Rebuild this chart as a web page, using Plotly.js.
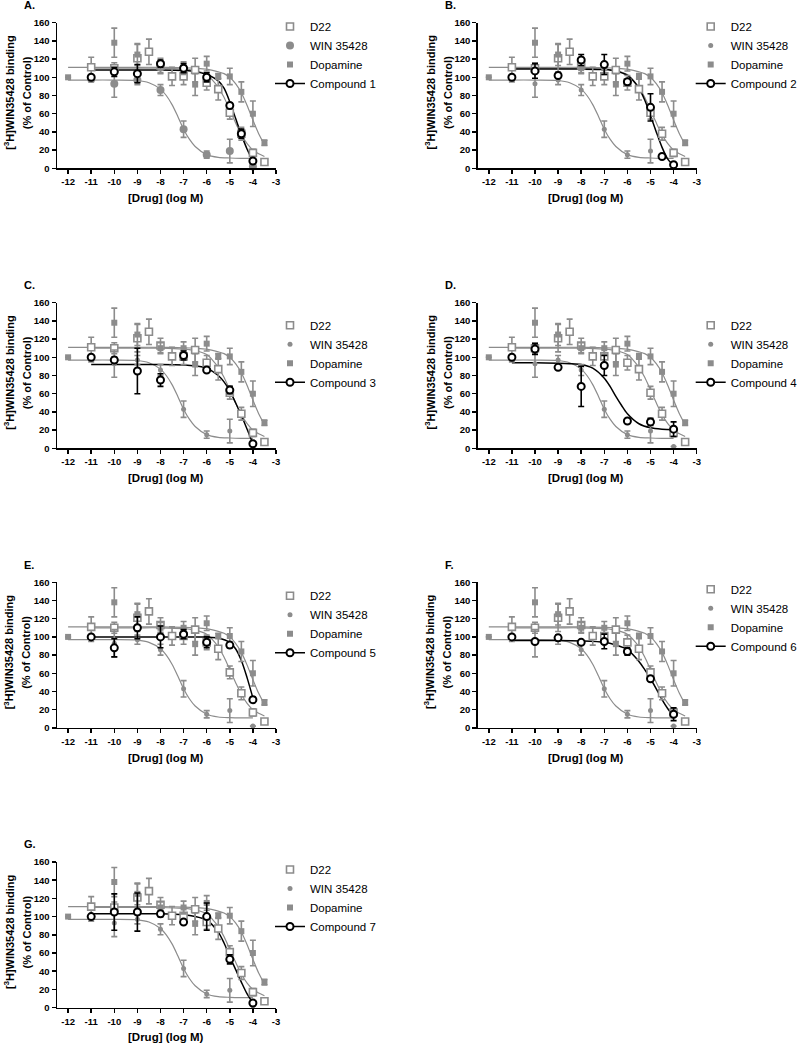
<!DOCTYPE html>
<html>
<head>
<meta charset="utf-8">
<script src="https://cdn.plot.ly/plotly-3.0.1.min.js"></script>
<style>body{margin:0;background:#fff}#plot{width:800px;height:1043px}</style>
</head>
<body>
<div id="plot"></div>
<script>
const W = 800, H = 1043;
const GRAY = '#8c8c8c';
const FONT = 'Arial, "Liberation Sans", sans-serif';

// reference compounds, same in every panel
let d22X = [-11, -10, -9, -8.5, -8, -7.5, -7, -6.5, -6, -5.5, -5, -4.5, -4, -3.5];
let d22Y = [111, 110, 121, 128, 113, 101, 101, 108, 94, 87, 61, 38, 17, 7];
let d22Err = [11, 6, 15, 14, 8, 10, 9, 13, 8, 12, 7, 7, 4, 2];
let d22FitX = [-11, -10, -9, -8, -7, -6.5, -6, -5.75, -5.5, -5.25, -5, -4.75, -4.5, -4.25, -4, -3.75, -3.5];
let d22FitY = [110, 110, 110, 110, 109, 107.5, 103, 97, 89, 78, 64, 50, 37, 27, 20, 16, 13];

let winX = [-11, -10, -9, -8, -7, -6, -5, -4];
let winY = [98, 93, 97, 86, 43, 15, 19, 2];
let winErr = [3, 15, 5, 6, 9, 4, 13, 0];
let winFitX = [-12, -11, -10, -9, -8.5, -8, -7.75, -7.5, -7.25, -7, -6.75, -6.5, -6, -5.5, -5, -4.5, -4];
let winFitY = [97, 97, 97, 96.5, 94, 87, 80, 70, 57, 43, 32, 24, 15, 12, 11.3, 11, 11];

let dopX = [-12, -10, -9, -8, -7, -6.5, -6, -5.5, -5, -4.5, -4, -3.5];
let dopY = [100, 138, 125, 110, 110, 92, 115, 101, 101, 84, 60, 28];
let dopErr = [0, 16, 12, 6, 7, 12, 8, 3, 9, 11, 14, 3];
let dopFitX = [-12, -11, -10, -9, -8, -7, -6.5, -6, -5.5, -5.25, -5, -4.75, -4.5, -4.25, -4, -3.75, -3.5];
let dopFitY = [111, 111, 111, 111, 111, 110.5, 110, 109, 106, 104, 100, 93, 83, 69, 53, 38, 26];

// test compounds, one per panel
let cmpNames = ['Compound 1', 'Compound 2', 'Compound 3', 'Compound 4', 'Compound 5', 'Compound 6', 'Compound 7'];
let cmpX = [
  [-11, -10, -9, -8, -7, -6, -5, -4.5, -4],
  [-11, -10, -9, -8, -7, -6, -5, -4.5, -4],
  [-11, -10, -9, -8, -7, -6, -5, -4],
  [-11, -10, -9, -8, -7, -6, -5, -4],
  [-11, -10, -9, -8, -7, -6, -5, -4],
  [-11, -10, -9, -8, -7, -6, -5, -4],
  [-11, -10, -9, -8, -7, -6, -5, -4]
];
let cmpY = [
  [100, 106, 104, 115, 110, 100, 69, 38, 8],
  [100, 107, 102, 119, 114, 95, 67, 13, 4],
  [100, 97, 85, 75, 102, 86, 64, 5],
  [100, 109, 89, 68, 91, 30, 29, 21],
  [100, 88, 110, 100, 103, 94, 91, 31],
  [100, 95, 99, 94, 95, 84, 54, 15],
  [100, 105, 105, 103, 94, 100, 53, 5]
];
let cmpErr = [
  [0, 5, 10, 4, 5, 5, 3, 5, 0],
  [0, 8, 3, 6, 11, 3, 15, 0, 0],
  [0, 3, 25, 7, 5, 0, 4, 0],
  [0, 6, 0, 22, 11, 0, 4, 8],
  [0, 10, 12, 12, 5, 6, 3, 3],
  [0, 0, 3, 0, 8, 4, 0, 7],
  [0, 20, 21, 3, 0, 15, 5, 0]
];
let cmpFitX = [
  [-11, -10, -9, -8, -7, -6.5, -6, -5.5, -5.25, -5, -4.75, -4.5, -4.25, -4],
  [-11, -10, -9, -8, -7, -6.5, -6, -5.5, -5.25, -5, -4.75, -4.5, -4.25, -4],
  [-11, -10, -9, -8, -7, -6.5, -6, -5.5, -5.25, -5, -4.75, -4.5, -4.25, -4],
  [-11, -10, -9, -8.5, -8, -7.5, -7, -6.75, -6.5, -6.25, -6, -5.5, -5, -4.5, -4],
  [-11, -10, -9, -8, -7, -6, -5.5, -5, -4.75, -4.5, -4.25, -4],
  [-11, -10, -9, -8, -7, -6.5, -6, -5.5, -5.25, -5, -4.75, -4.5, -4.25, -4],
  [-11, -10, -9, -8, -7, -6.5, -6, -5.5, -5.25, -5, -4.75, -4.5, -4.25, -4]
];
let cmpFitY = [
  [108, 108, 108, 108, 107.5, 106.5, 103, 96, 88, 73, 55, 37, 21, 8],
  [109, 109, 109, 109, 108.5, 107, 102, 88, 75, 58, 40, 23, 10, 3],
  [92, 92, 92, 92, 91.5, 90.5, 88, 80, 73, 63, 50, 36, 21, 5],
  [94, 94, 93.5, 93, 92, 88, 77, 68, 57, 47, 38, 27, 22.5, 21, 20.5],
  [100, 100, 100, 100, 100, 99.8, 98.8, 94, 87, 74, 55, 33],
  [96, 96, 96, 95.5, 94, 91, 86, 73, 64, 54, 43, 31, 21, 13],
  [103, 103, 103, 103, 102, 100, 96, 83, 71, 56, 42, 28, 15, 5]
];

let panelLabels = ['A.', 'B.', 'C.', 'D.', 'E.', 'F.', 'G.'];
let xTickVals = [-12, -11, -10, -9, -8, -7, -6, -5, -4, -3];
let xTickText = ['-12', '-11', '-10', '-9', '-8', '-7', '-6', '-5', '-4', '-3'];
let yTickVals = [0, 20, 40, 60, 80, 100, 120, 140, 160];

// panel geometry in pixels
const colLeft = [57, 477.7];
const rowTop = [22.7, 302.7, 582.3, 862];
const plotW = 219, plotH = 145.6;
const legendRow = [1.3, 1.3, 20, 20, 11, 4.5, 5];
const winSize = [8, 5, 5, 5, 5, 5, 5];

let data = [];
let annotations = [];
let layout = {
  width: W, height: H,
  margin: {l: 0, r: 0, t: 0, b: 0, autoexpand: false},
  paper_bgcolor: '#fff', plot_bgcolor: '#fff',
  font: {family: FONT, color: '#000'},
  showlegend: true
};

function errBar(arr, color) {
  return {type: 'data', array: arr, visible: true, color: color, thickness: 1.6, width: 3};
}

for (let i = 0; i < 7; i++) {
  const n = i === 0 ? '' : String(i + 1);
  const xa = 'x' + n, ya = 'y' + n;
  const lg = 'legend' + n;
  const left = colLeft[i % 2], top = rowTop[Math.floor(i / 2)];

  const fit = (x, y, color, w) => ({
    x: x, y: y, xaxis: xa, yaxis: ya, mode: 'lines', showlegend: false,
    line: {color: color, width: w, shape: 'spline', smoothing: 0.8}, hoverinfo: 'skip'
  });
  data.push(fit(d22FitX, d22FitY, GRAY, 1.2));
  data.push(fit(dopFitX, dopFitY, GRAY, 1.2));
  data.push(fit(winFitX, winFitY, GRAY, 1.2));
  data.push(fit(cmpFitX[i], cmpFitY[i], '#000', 1.5));

  data.push({
    x: d22X, y: d22Y, xaxis: xa, yaxis: ya, legend: lg, name: 'D22', mode: 'markers', cliponaxis: false,
    marker: {symbol: 'square', size: 7, color: '#fff', line: {color: GRAY, width: 1.6}},
    error_y: errBar(d22Err, GRAY)
  });
  data.push({
    x: winX, y: winY, xaxis: xa, yaxis: ya, legend: lg, name: 'WIN 35428', mode: 'markers', cliponaxis: false,
    marker: {symbol: 'circle', size: winSize[i], color: GRAY},
    error_y: errBar(winErr, GRAY)
  });
  data.push({
    x: dopX, y: dopY, xaxis: xa, yaxis: ya, legend: lg, name: 'Dopamine', mode: 'markers', cliponaxis: false,
    marker: {symbol: 'square', size: 6, color: GRAY},
    error_y: errBar(dopErr, GRAY)
  });
  data.push({
    x: cmpX[i], y: cmpY[i], xaxis: xa, yaxis: ya, showlegend: false, mode: 'markers', cliponaxis: false,
    marker: {symbol: 'circle', size: 7, color: '#fff', line: {color: '#000', width: 2}},
    error_y: errBar(cmpErr[i], '#000')
  });
  // legend entry for the compound (line + open circle)
  data.push({
    x: [null], y: [null], xaxis: xa, yaxis: ya, legend: lg, name: cmpNames[i], mode: 'lines+markers',
    line: {color: '#000', width: 1.5},
    marker: {symbol: 'circle', size: 7, color: '#fff', line: {color: '#000', width: 2}}
  });

  const axisBase = {
    showline: true, linecolor: '#000', linewidth: 1.5,
    ticks: 'outside', ticklen: 4, tickwidth: 1.5, tickcolor: '#000',
    showgrid: false, zeroline: false, fixedrange: true,
    tickfont: {family: FONT, size: 9.5, weight: 'bold', color: '#000'}
  };
  layout['xaxis' + n] = Object.assign({}, axisBase, {
    domain: [left / W, (left + plotW) / W], anchor: ya,
    range: [-12.48, -3], tickmode: 'array', tickvals: xTickVals, ticktext: xTickText
  });
  layout['yaxis' + n] = Object.assign({}, axisBase, {
    domain: [1 - (top + plotH) / H, 1 - top / H], anchor: xa,
    range: [0, 160], tickmode: 'array', tickvals: yTickVals
  });
  layout[lg] = {
    x: (left + 213) / W, y: 1 - (top + legendRow[i] - 12) / H,
    xanchor: 'left', yanchor: 'top', bgcolor: 'rgba(0,0,0,0)',
    font: {family: FONT, size: 11.5, color: '#000'}, itemwidth: 30, tracegroupgap: 0
  };

  const ann = (text, x, y, extra) => Object.assign({
    text: text, xref: 'paper', yref: 'paper', x: x / W, y: 1 - y / H, showarrow: false,
    xanchor: 'center', yanchor: 'middle',
    font: {family: FONT, size: 11, weight: 'bold', color: '#000'}
  }, extra);
  annotations.push(ann(panelLabels[i], left - 35, top - 17.7, {xanchor: 'left'}));
  annotations.push(ann('[<sup>3</sup>H]WIN35428 binding', left - 48, top + 70, {textangle: -90}));
  annotations.push(ann('(% of Control)', left - 30.5, top + 70, {textangle: -90}));
  annotations.push(ann('[Drug] (log M)', left + plotW / 2 - 1, top + plotH + 29.7, {font: {family: FONT, size: 11.5, weight: 'bold', color: '#000'}}));
}
layout.annotations = annotations;

Plotly.newPlot('plot', data, layout, {staticPlot: true});
</script>
</body>
</html>
